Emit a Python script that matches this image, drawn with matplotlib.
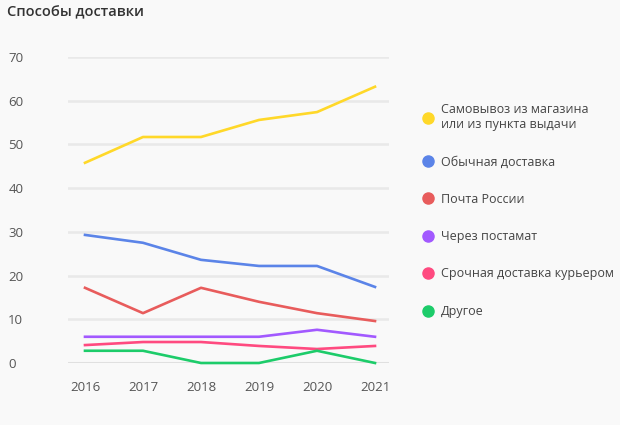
import matplotlib
matplotlib.use("Agg")
import matplotlib.pyplot as plt
from matplotlib.lines import Line2D

plt.rcParams['font.family'] = ['Open Sans', 'DejaVu Sans']

# Data
years = [2016, 2017, 2018, 2019, 2020, 2021]
pickup = [45.8, 51.7, 51.7, 55.6, 57.4, 63.2]
regular = [29.3, 27.5, 23.6, 22.2, 22.2, 17.4]
post = [17.2, 11.4, 17.2, 14.0, 11.4, 9.6]
parcel_locker = [6.0, 6.0, 6.0, 6.0, 7.6, 6.0]
courier = [4.1, 4.8, 4.8, 3.9, 3.2, 3.9]
other = [2.8, 2.8, 0.0, 0.0, 2.8, 0.0]

labels = ["Самовывоз из магазина\nили из пункта выдачи", "Обычная доставка",
          "Почта России", "Через постамат", "Срочная доставка курьером", "Другое"]
colors = ["#FFD829", "#5B84E8", "#E85C5C", "#A259FF", "#FF4A80", "#1DCC6A"]
series = [pickup, regular, post, parcel_locker, courier, other]

W, H = 620, 425
fig = plt.figure(figsize=(W / 100, H / 100), dpi=100, facecolor="#f9f9f9")
ax = fig.add_axes([68 / W, 1 - 363 / H, (389 - 68) / W, (363 - 57) / H])
ax.set_facecolor("#f9f9f9")

ax.set_ylim(0, 70)
ax.set_xlim(2016 - 17 / 58, 2021 + 14 / 58)
ax.set_yticks(range(0, 71, 10))
ax.set_xticks(years)

for y in range(10, 71, 10):
    ax.axhline(y, color="#e9e9e9", lw=1.8, zorder=0)
ax.axhline(0, color="#e0e0e0", lw=2.2, zorder=0)

for vals, c in zip(series, colors):
    ax.plot(years, vals, color=c, lw=1.9, clip_on=False, zorder=3)

for s in ax.spines.values():
    s.set_visible(False)
ax.tick_params(axis="both", length=0, labelsize=9.5, labelcolor="#555555")
ax.tick_params(axis="y", pad=43)
for t in ax.get_yticklabels():
    t.set_horizontalalignment("left")
ax.tick_params(axis="x", pad=13)

fig.text(7 / W, 1 - 12 / H, "Способы доставки", fontsize=10.5, fontweight="semibold",
         color="#333333", va="center", ha="left")

handles = [Line2D([], [], marker="o", ls="none", color=c, markersize=8) for c in colors]
fig.legend(handles, labels, loc="upper left", bbox_to_anchor=(415 / W, 1 - 98 / H),
           frameon=False, fontsize=9.0, labelcolor="#444444", labelspacing=1.95,
           handletextpad=0.5, handlelength=1.2, borderaxespad=0)

fig.savefig("out.png", dpi=100, facecolor=fig.get_facecolor())
